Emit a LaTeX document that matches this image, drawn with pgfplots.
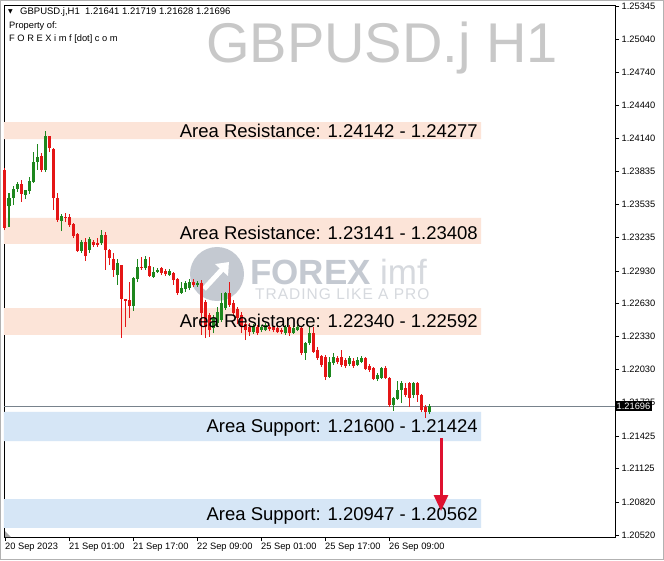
\documentclass[border=0pt]{standalone}
\usepackage{pgfplots}
\pgfplotsset{compat=1.18}
\usepackage{pgfplotstable}
\usepackage{fontspec}
\setmainfont{Liberation Sans}
\newfontfamily\symfont{DejaVu Sans}
\newfontfamily\spacedfont[LetterSpace=6.5]{Liberation Sans}
\usetikzlibrary{arrows.meta}
\definecolor{bull}{RGB}{30,135,30}
\definecolor{bear}{RGB}{228,22,22}
\definecolor{resband}{RGB}{252,228,216}
\definecolor{supband}{RGB}{214,230,246}
\definecolor{wm}{RGB}{200,200,200}
\definecolor{logo}{RGB}{196,201,209}
\definecolor{logolight}{RGB}{214,217,222}
\definecolor{arrowred}{RGB}{222,18,48}
\definecolor{pline}{RGB}{120,130,140}

\pgfplotstableread{
k o h l c
0 1.23850 1.23868 1.23302 1.23321
1 1.23521 1.23640 1.23330 1.23594
2 1.23594 1.23704 1.23530 1.23676
3 1.23676 1.23740 1.23649 1.23722
4 1.23722 1.23758 1.23558 1.23631
5 1.23622 1.23667 1.23585 1.23667
6 1.23658 1.23786 1.23631 1.23749
7 1.23740 1.24014 1.23731 1.23923
8 1.23923 1.24087 1.23850 1.23968
9 1.23977 1.24005 1.23831 1.23850
10 1.23850 1.24205 1.23831 1.24160
11 1.24160 1.24160 1.24014 1.24050
12 1.24041 1.24050 1.23485 1.23594
13 1.23594 1.23640 1.23375 1.23394
14 1.23385 1.23448 1.23293 1.23430
15 1.23421 1.23457 1.23375 1.23412
16 1.23421 1.23448 1.23330 1.23348
17 1.23357 1.23366 1.23229 1.23248
18 1.23266 1.23275 1.23102 1.23111
19 1.23111 1.23211 1.23093 1.23193
20 1.23193 1.23229 1.23020 1.23065
21 1.23120 1.23239 1.23093 1.23220
22 1.23193 1.23211 1.23147 1.23166
23 1.23184 1.23229 1.23147 1.23166
24 1.23184 1.23302 1.23166 1.23257
25 1.23257 1.23284 1.22938 1.23120
26 1.23120 1.23129 1.22983 1.23047
27 1.23038 1.23093 1.22874 1.22938
28 1.22892 1.23038 1.22801 1.23001
29 1.22983 1.22983 1.22317 1.22673
30 1.22673 1.22673 1.22418 1.22655
31 1.22664 1.22828 1.22500 1.22609
32 1.22609 1.22874 1.22564 1.22865
33 1.22856 1.23038 1.22828 1.22965
34 1.22965 1.23056 1.22938 1.22956
35 1.22956 1.23065 1.22938 1.23038
36 1.22974 1.23056 1.22874 1.22883
37 1.22874 1.22965 1.22865 1.22919
38 1.22919 1.22956 1.22910 1.22938
39 1.22956 1.22965 1.22892 1.22910
40 1.22929 1.22947 1.22883 1.22901
41 1.22892 1.22947 1.22883 1.22929
42 1.22910 1.22919 1.22801 1.22846
43 1.22856 1.22865 1.22710 1.22728
44 1.22728 1.22828 1.22719 1.22774
45 1.22764 1.22837 1.22737 1.22819
46 1.22774 1.22856 1.22755 1.22828
47 1.22828 1.22856 1.22783 1.22801
48 1.22801 1.22837 1.22783 1.22819
49 1.22819 1.22846 1.22345 1.22545
50 1.22646 1.22664 1.22317 1.22418
51 1.22527 1.22545 1.22327 1.22390
52 1.22409 1.22527 1.22363 1.22500
53 1.22454 1.22600 1.22418 1.22555
54 1.22482 1.22728 1.22463 1.22637
55 1.22591 1.22737 1.22573 1.22728
56 1.22728 1.22828 1.22600 1.22618
57 1.22637 1.22664 1.22518 1.22545
58 1.22582 1.22600 1.22445 1.22500
59 1.22527 1.22555 1.22363 1.22418
60 1.22445 1.22463 1.22299 1.22390
61 1.22418 1.22454 1.22336 1.22372
62 1.22372 1.22445 1.22354 1.22427
63 1.22418 1.22436 1.22345 1.22363
64 1.22390 1.22436 1.22372 1.22418
65 1.22390 1.22454 1.22381 1.22436
66 1.22418 1.22436 1.22381 1.22400
67 1.22418 1.22427 1.22372 1.22390
68 1.22409 1.22436 1.22363 1.22372
69 1.22390 1.22409 1.22354 1.22372
70 1.22363 1.22436 1.22345 1.22418
71 1.22418 1.22436 1.22336 1.22363
72 1.22363 1.22427 1.22354 1.22409
73 1.22390 1.22436 1.22381 1.22418
74 1.22409 1.22418 1.22162 1.22181
75 1.22181 1.22281 1.22117 1.22272
76 1.22272 1.22418 1.22254 1.22363
77 1.22363 1.22418 1.22181 1.22190
78 1.22208 1.22235 1.22117 1.22135
79 1.22153 1.22162 1.22053 1.22071
80 1.22144 1.22162 1.21934 1.21962
81 1.21962 1.22144 1.21953 1.22099
82 1.22089 1.22181 1.22071 1.22144
83 1.22135 1.22153 1.22080 1.22099
84 1.22144 1.22208 1.22053 1.22071
85 1.22117 1.22135 1.22044 1.22062
86 1.22080 1.22153 1.22062 1.22135
87 1.22108 1.22135 1.22044 1.22062
88 1.22071 1.22144 1.22062 1.22117
89 1.22099 1.22153 1.22089 1.22135
90 1.22135 1.22144 1.22026 1.22035
91 1.22062 1.22080 1.22007 1.22026
92 1.22044 1.22053 1.21934 1.21944
93 1.21944 1.21998 1.21925 1.21980
94 1.21953 1.22053 1.21944 1.22044
95 1.22044 1.22062 1.21944 1.21953
96 1.21953 1.21962 1.21688 1.21706
97 1.21706 1.21779 1.21652 1.21770
98 1.21761 1.21925 1.21752 1.21843
99 1.21843 1.21925 1.21725 1.21907
100 1.21861 1.21907 1.21779 1.21798
101 1.21907 1.21916 1.21688 1.21770
102 1.21798 1.21916 1.21770 1.21907
103 1.21907 1.21916 1.21734 1.21798
104 1.21798 1.21807 1.21643 1.21661
105 1.21688 1.21706 1.21588 1.21643
106 1.21641 1.21719 1.21628 1.21696
}\candles

\begin{document}
\begin{tikzpicture}
\useasboundingbox (0,0) rectangle (664pt,560pt);
\fill[white] (0,0) rectangle (664pt,560pt);
\draw[gray!60, line width=1pt] (0.5pt,0.5pt) rectangle (663.5pt,559.5pt);
\begin{scope}[shift={(0,560pt)}, x=1pt, y=-1pt]
  % watermark
  \node[anchor=base west, inner sep=0, text=wm, font=\fontsize{56}{56}\selectfont] at (206,63) {GBPUSD.j H1};
  % logo
  \fill[logo] (217,274) circle (27);
  \draw[white, line width=5pt, -{Triangle[length=11pt,width=17pt]}] (204,289) -- (229,262);
  \node[anchor=base west, inner sep=0, text depth=0pt, text=logo, font=\fontsize{35}{35}\selectfont\bfseries] at (250,285) {FOREX};
  \node[anchor=base west, inner sep=0, text depth=0pt, text=logolight, font=\fontsize{35}{35}\selectfont] at (380,285) {imf};
  \node[anchor=base west, inner sep=0, text height=11pt, text depth=0pt, text=logolight, font=\spacedfont\fontsize{15.5}{16}\selectfont] at (255,300) {TRADING LIKE A PRO};
  % top-left info
  \node[anchor=base west, inner sep=0, font=\symfont\fontsize{6}{6}\selectfont] at (8,14) {▼};
  \node[anchor=base west, inner sep=0, font=\fontsize{9.5}{10}\selectfont] at (20,15) {GBPUSD.j,H1\ \ 1.21641 1.21719 1.21628 1.21696};
  \node[anchor=base west, inner sep=0, font=\fontsize{9.3}{10}\selectfont] at (9,29) {Property of:};
  \node[anchor=base west, inner sep=0, font=\fontsize{9.3}{10}\selectfont] at (9,42) {F O R E X i m f [dot] c o m};
\end{scope}
\begin{axis}[
  at={(4pt,23pt)}, anchor=south west,
  scale only axis, width=611pt, height=532pt,
  xmin=-0.25, xmax=152.5,
  ymin=1.205026, ymax=1.253544,
  clip=false,
  axis line style={black, line width=0.8pt},
  xtick pos=left, ytick pos=right,
  yticklabel pos=right,
  tick align=outside,
  major tick length=4pt,
  tick style={black, line width=0.6pt},
  xtick={0,16,32,48,64,80,96},
  xticklabels={20 Sep 2023,21 Sep 01:00,21 Sep 17:00,22 Sep 09:00,25 Sep 01:00,25 Sep 17:00,26 Sep 09:00},
  ytick={1.25345,1.25040,1.24740,1.24440,1.24140,1.23835,1.23535,1.23235,1.22930,1.22630,1.22330,1.22030,1.21735,1.21425,1.21125,1.20820,1.20520},
  yticklabels={1.25345,1.25040,1.24740,1.24440,1.24140,1.23835,1.23535,1.23235,1.22930,1.22630,1.22330,1.22030,1.21735,1.21425,1.21125,1.20820,1.20520},
  yticklabel style={font=\fontsize{9.3}{10}\selectfont, anchor=west, inner sep=2.5pt},
  xticklabel style={font=\fontsize{9.3}{10}\selectfont, anchor=north west, xshift=-2pt, inner sep=2pt},
]
% zones
\addplot[draw=none, fill=resband, forget plot] coordinates {(-0.25,1.24132) (119,1.24132) (119,1.24287) (-0.25,1.24287) (-0.25,1.24132)};
\addplot[draw=none, fill=resband, forget plot] coordinates {(-0.25,1.23175) (119,1.23175) (119,1.23412) (-0.25,1.23412) (-0.25,1.23175)};
\addplot[draw=none, fill=resband, forget plot] coordinates {(-0.25,1.22345) (119,1.22345) (119,1.22591) (-0.25,1.22591) (-0.25,1.22345)};
\addplot[draw=none, fill=supband, forget plot] coordinates {(-0.25,1.21378) (119,1.21378) (119,1.21643) (-0.25,1.21643) (-0.25,1.21378)};
\addplot[draw=none, fill=supband, forget plot] coordinates {(-0.25,1.20585) (119,1.20585) (119,1.20849) (-0.25,1.20849) (-0.25,1.20585)};
% current price line
\addplot[pline, line width=0.8pt, forget plot] coordinates {(-0.25,1.21696) (152.5,1.21696)};
% wicks
\addplot[bull, line width=1pt, forget plot,
  restrict expr to domain={\thisrow{c}-\thisrow{o}}{0:1},
  quiver={u=0, v=\thisrow{h}-\thisrow{l}}]
  table[x=k, y=l] {\candles};
\addplot[bear, line width=1pt, forget plot,
  restrict expr to domain={\thisrow{o}-\thisrow{c}}{0.000001:1},
  quiver={u=0, v=\thisrow{h}-\thisrow{l}}]
  table[x=k, y=l] {\candles};
% bodies
\addplot[bull, line width=3pt, forget plot,
  restrict expr to domain={\thisrow{c}-\thisrow{o}}{0:1},
  quiver={u=0, v={max(\thisrow{c}-\thisrow{o},0.00009)}}]
  table[x=k, y=o] {\candles};
\addplot[bear, line width=3pt, forget plot,
  restrict expr to domain={\thisrow{o}-\thisrow{c}}{0.000001:1},
  quiver={u=0, v={max(\thisrow{o}-\thisrow{c},0.00009)}}]
  table[x=k, y=c] {\candles};
% price box
\node[fill=black, text=white, anchor=west, inner sep=1.5pt, font=\fontsize{9.3}{10}\selectfont] at (axis cs:152.5,1.21696) {1.21696};
\end{axis}
\begin{scope}[shift={(0,560pt)}, x=1pt, y=-1pt]
  \fill[gray!70] (5,531) -- (5,537) -- (11,537) -- cycle;
  \foreach \yy/\txt in {131/{Area Resistance: 1.24142 - 1.24277}, 233/{Area Resistance: 1.23141 - 1.23408}, 321/{Area Resistance: 1.22340 - 1.22592}, 428/{Area Support: 1.21600 - 1.21424}, 516/{Area Support: 1.20947 - 1.20562}}
    \node[anchor=east, inner sep=0, font=\fontsize{18.5}{19}\selectfont] at (478,\yy) {\txt};
  \draw[arrowred, line width=3pt, -{Triangle[length=16pt,width=14pt]}] (441,438) -- (441,511);
\end{scope}
\end{tikzpicture}
\end{document}
